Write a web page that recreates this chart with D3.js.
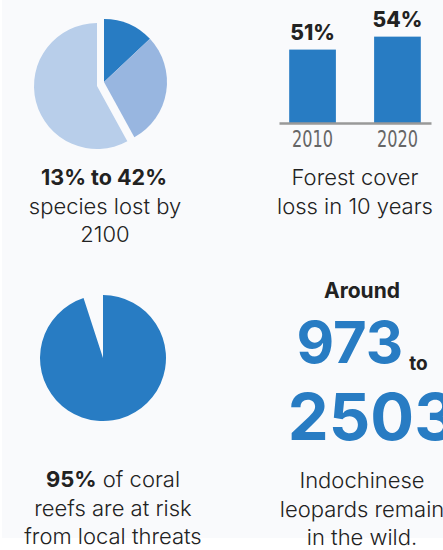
<!DOCTYPE html>
<html>
<head>
<meta charset="utf-8">
<script src="https://cdn.jsdelivr.net/npm/d3@7"></script>
<style>
  body { margin: 0; background: #fff; }
  svg text { font-family: Inter, "Noto Sans", sans-serif; fill: #222; }
</style>
</head>
<body>
<svg id="chart" width="443" height="550"></svg>
<script>
// species lost (13% low estimate, up to 42%)
const speciesParts = [13, 29, 58];
const speciesColors = ["#287cc3", "#98b6e0", "#b8ceea"];

// forest cover loss
const years = ["2010", "2020"];
const forestLoss = [51, 54];

// coral reefs at risk
const coralParts = [95, 5];

// leopards remaining
const leopardLow = 973;
const leopardHigh = 2503;

const blue = "#287cc3";
const svg = d3.select("#chart");

svg.append("rect")
   .attr("x", 2).attr("y", 0)
   .attr("width", 441).attr("height", 538)
   .attr("fill", "#f9fafc");

const pie = d3.pie().sort(null).value(d => d);
const arc = d3.arc().innerRadius(0).outerRadius(63);

// top left pie, biggest slice pulled out
const g1 = svg.append("g").attr("transform", "translate(104,82)");
g1.selectAll("path")
  .data(pie(speciesParts))
  .enter()
  .append("path")
  .attr("d", arc)
  .attr("fill", (d, i) => speciesColors[i])
  .attr("transform", (d, i) => i == 2 ? "translate(-7,4)" : null);

function lines(x, y0, rows, size) {
  rows.forEach((r, i) => {
    const t = svg.append("text")
      .attr("x", x).attr("y", y0 + i * 28.5)
      .attr("text-anchor", "middle")
      .style("font-size", size + "px");
    r.forEach(p => {
      t.append("tspan").text(p[0]).style("font-weight", p[1] ? 700 : 300);
    });
  });
}

lines(104, 185, [[["13% to 42%", true]]], 21.5);
lines(105, 213.5, [[["species lost by"]], [["2100"]]], 22);

// bars
const x = d3.scaleBand().domain(years).range([279, 431]).paddingInner(0.45).paddingOuter(0.12);
const y = d3.scaleLinear().domain([34, 56]).range([123, 28]);

svg.selectAll(".bar")
   .data(forestLoss)
   .enter()
   .append("rect")
   .attr("class", "bar")
   .attr("x", (d, i) => x(years[i]))
   .attr("y", d => y(d))
   .attr("width", x.bandwidth())
   .attr("height", d => y(34) - y(d))
   .attr("fill", blue);

svg.selectAll(".val")
   .data(forestLoss)
   .enter()
   .append("text")
   .attr("class", "val")
   .attr("x", (d, i) => x(years[i]) + x.bandwidth() / 2)
   .attr("y", d => y(d) - 10)
   .attr("text-anchor", "middle")
   .style("font-size", "21px")
   .style("font-weight", 800)
   .text(d => d + "%");

const ax = svg.append("g")
   .attr("transform", "translate(0,123)")
   .call(d3.axisBottom(x).tickSize(0).tickPadding(8));
ax.select(".domain").attr("stroke", "#999").attr("stroke-width", 2.5);
// condensed look for the years
ax.selectAll("text")
  .style("font-family", "'DejaVu Sans', sans-serif")
  .style("font-size", "22.5px")
  .style("fill", "#666")
  .attr("textLength", 41)
  .attr("lengthAdjust", "spacingAndGlyphs");

lines(355, 185, [[["Forest cover"]], [["loss in 10 years"]]], 22);

// bottom left pie with missing wedge
const g2 = svg.append("g").attr("transform", "translate(103,358)");
g2.selectAll("path")
  .data(pie(coralParts))
  .enter()
  .append("path")
  .attr("d", arc)
  .attr("fill", (d, i) => i == 0 ? blue : "none");

lines(113, 487, [[["95%", true], [" of coral"]], [["reefs are at risk"]], [["from local threats"]]], 22);

// leopards
svg.append("text")
   .attr("x", 362).attr("y", 298)
   .attr("text-anchor", "middle")
   .style("font-size", "21px").style("font-weight", 700)
   .text("Around");

const big = svg.append("text")
   .attr("x", 362).attr("y", 363)
   .attr("text-anchor", "middle")
   .style("font-weight", 700);
big.append("tspan").text(leopardLow).style("font-size", "58px").style("fill", blue);
big.append("tspan").text("to").attr("dx", 6).attr("dy", 7).style("font-size", "19px");

svg.append("text")
   .attr("x", 372).attr("y", 440)
   .attr("text-anchor", "middle")
   .style("font-size", "65px").style("font-weight", 700)
   .style("fill", blue)
   .text(leopardHigh);

lines(362, 488, [[["Indochinese"]], [["leopards remain"]], [["in the wild."]]], 22);
</script>
</body>
</html>
